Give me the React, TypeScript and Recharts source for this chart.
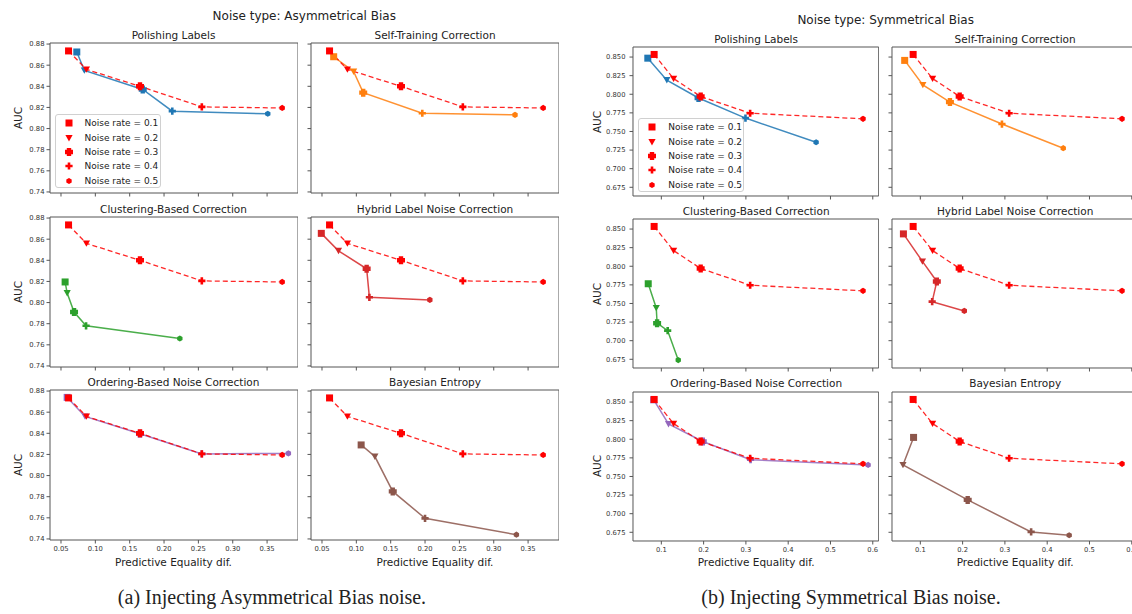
import React from "react";
import { LineChart, Line, XAxis, YAxis, ReferenceArea, Legend } from "recharts";

const noiseRates = [0.1, 0.2, 0.3, 0.4, 0.5];

// (a) asymmetrical bias — red dashed reference (no correction)
const asymBaseX = [0.061, 0.087, 0.165, 0.255, 0.372];
const asymBaseY = [0.8735, 0.856, 0.84, 0.8205, 0.8195];
const asymPolishX = [0.073, 0.084, 0.169, 0.212, 0.351];
const asymPolishY = [0.8725, 0.855, 0.837, 0.8165, 0.814];
const asymSelfX = [0.067, 0.096, 0.11, 0.196, 0.331];
const asymSelfY = [0.868, 0.854, 0.834, 0.8145, 0.813];
const asymClusterX = [0.056, 0.059, 0.069, 0.0865, 0.223];
const asymClusterY = [0.8195, 0.809, 0.791, 0.778, 0.766];
const asymHybridX = [0.049, 0.074, 0.115, 0.119, 0.207];
const asymHybridY = [0.8655, 0.849, 0.832, 0.805, 0.8025];
const asymOrderX = [0.059, 0.085, 0.165, 0.255, 0.381];
const asymOrderY = [0.874, 0.856, 0.8395, 0.8205, 0.821];
const asymBayesX = [0.107, 0.127, 0.153, 0.2, 0.333];
const asymBayesY = [0.829, 0.818, 0.785, 0.7595, 0.744];

// (b) symmetrical bias
const symBaseX = [0.083, 0.129, 0.193, 0.31, 0.577];
const symBaseY = [0.8535, 0.821, 0.797, 0.7745, 0.767];
const symPolishX = [0.068, 0.113, 0.188, 0.299, 0.466];
const symPolishY = [0.8485, 0.819, 0.795, 0.768, 0.7355];
const symSelfX = [0.063, 0.106, 0.17, 0.293, 0.438];
const symSelfY = [0.8455, 0.8125, 0.7895, 0.76, 0.7275];
const symClusterX = [0.069, 0.088, 0.09, 0.115, 0.14];
const symClusterY = [0.7765, 0.744, 0.7235, 0.7135, 0.674];
const symHybridX = [0.06, 0.105, 0.139, 0.128, 0.204];
const symHybridY = [0.8435, 0.8065, 0.7795, 0.7525, 0.74];
const symOrderX = [0.082, 0.117, 0.198, 0.311, 0.589];
const symOrderY = [0.853, 0.8205, 0.797, 0.7725, 0.7655];
const symBayesX = [0.084, 0.059, 0.212, 0.362, 0.452];
const symBayesY = [0.8025, 0.7655, 0.7185, 0.6755, 0.671];

const asymXTicks = [0.05, 0.1, 0.15, 0.2, 0.25, 0.3, 0.35];
const asymYTicks = [0.74, 0.76, 0.78, 0.8, 0.82, 0.84, 0.86, 0.88];
const symXTicks = [0.1, 0.2, 0.3, 0.4, 0.5, 0.6];
const symYTicks = [0.675, 0.7, 0.725, 0.75, 0.775, 0.8, 0.825, 0.85];

const titles = [
  "Polishing Labels",
  "Self-Training Correction",
  "Clustering-Based Correction",
  "Hybrid Label Noise Correction",
  "Ordering-Based Noise Correction",
  "Bayesian Entropy",
];
const colors = ["#1f77b4", "#ff7f0e", "#2ca02c", "#d62728", "#9467bd", "#8c564b"];

const toPoints = (xs: number[], ys: number[]) => xs.map((x, i) => ({ x, y: ys[i] }));

const FONT = "'DejaVu Sans', sans-serif";
const YW = 45;
const XH = 25;
const MT = 6;

const plus = (cx: number, cy: number, b: number, a: number) =>
  [
    [-a, -b], [a, -b], [a, -a], [b, -a], [b, a], [a, a],
    [a, b], [-a, b], [-a, a], [-b, a], [-b, -a], [-a, -a],
  ]
    .map(([dx, dy]) => `${cx + dx},${cy + dy}`)
    .join(" ");

const hexagon = (cx: number, cy: number, r: number) =>
  [0, 1, 2, 3, 4, 5]
    .map((k) => {
      const t = (Math.PI / 3) * k + Math.PI / 6;
      return `${cx + r * Math.cos(t)},${cy + r * Math.sin(t)}`;
    })
    .join(" ");

function marker(i: number, cx: number, cy: number, color: string, key?: any) {
  switch (i) {
    case 0:
      return <rect key={key} x={cx - 3.5} y={cy - 3.5} width={7} height={7} fill={color} />;
    case 1:
      return (
        <polygon
          key={key}
          points={`${cx - 3.6},${cy - 3} ${cx + 3.6},${cy - 3} ${cx},${cy + 3.4}`}
          fill={color}
        />
      );
    case 2:
      return <polygon key={key} points={plus(cx, cy, 4, 2.2)} fill={color} />;
    case 3:
      return <polygon key={key} points={plus(cx, cy, 3.6, 1.3)} fill={color} />;
    default:
      return <polygon key={key} points={hexagon(cx, cy, 3.1)} fill={color} />;
  }
}

const dotFor = (color: string) => (p: any) => marker(p.index, p.cx, p.cy, color, p.index);

const NoiseLegend = () => (
  <div
    style={{
      width: 106,
      height: 74,
      boxSizing: "border-box",
      border: "1px solid #d0d0d0",
      borderRadius: 3,
      background: "rgba(255,255,255,0.85)",
      paddingTop: 1,
    }}
  >
    {noiseRates.map((r, i) => (
      <div key={r} style={{ height: 14.3, display: "flex", alignItems: "center" }}>
        <svg width={26} height={12} style={{ flex: "none" }}>
          {marker(i, 13, 6, "#ff0000")}
        </svg>
        <span style={{ fontFamily: FONT, fontSize: 9, color: "#222", marginLeft: 3 }}>
          Noise rate = {r}
        </span>
      </div>
    ))}
  </div>
);

type Group = {
  xDomain: [number, number];
  yDomain: [number, number];
  xTicks: number[];
  yTicks: number[];
  xFmt: (v: number) => string;
  yFmt: (v: number) => string;
  yTickMargin: number;
  colLeft: number[];
  rowTop: number[];
  w: number;
  h: number;
  base: { x: number; y: number }[];
  series: { x: number; y: number }[][];
};

function Panel({ g, k }: { g: Group; k: number }) {
  const row = Math.floor(k / 2);
  const col = k % 2;
  const showX = row === 2;
  const showY = col === 0;
  const left = g.colLeft[col] - YW;
  const top = g.rowTop[row] - MT;
  return (
    <div style={{ position: "absolute", left, top }}>
      <LineChart
        width={g.w + YW}
        height={g.h + XH + MT}
        margin={{ top: MT, right: 0, bottom: 0, left: 0 }}
      >
        <XAxis
          type="number"
          dataKey="x"
          domain={g.xDomain}
          ticks={g.xTicks}
          interval={0}
          allowDataOverflow
          height={XH}
          axisLine={false}
          tickSize={3.5}
          tickMargin={3}
          tickLine={{ stroke: "#555" }}
          tick={{ fontSize: 6.8, fill: "#333", fontFamily: FONT }}
          tickFormatter={showX ? g.xFmt : () => ""}
        />
        <YAxis
          type="number"
          dataKey="y"
          domain={g.yDomain}
          ticks={g.yTicks}
          interval={0}
          allowDataOverflow
          width={YW}
          axisLine={false}
          tickSize={3.5}
          tickMargin={g.yTickMargin}
          tickLine={{ stroke: "#555" }}
          tick={{ fontSize: 6.8, fill: "#333", fontFamily: FONT }}
          tickFormatter={showY ? g.yFmt : () => ""}
        />
        <ReferenceArea
          x1={g.xDomain[0]}
          x2={g.xDomain[1]}
          y1={g.yDomain[0]}
          y2={g.yDomain[1]}
          fill="none"
          stroke="#555"
          strokeWidth={1}
          ifOverflow="visible"
        />
        <Line
          data={g.series[k]}
          dataKey="y"
          stroke={colors[k]}
          strokeWidth={1.5}
          strokeOpacity={0.85}
          dot={dotFor(colors[k])}
          activeDot={false}
          isAnimationActive={false}
        />
        <Line
          data={g.base}
          dataKey="y"
          stroke="#ff0000"
          strokeWidth={1.3}
          strokeOpacity={0.85}
          strokeDasharray="5 3"
          dot={dotFor("#ff0000")}
          activeDot={false}
          isAnimationActive={false}
        />
        {k === 0 && (
          <Legend
            layout="vertical"
            align="center"
            verticalAlign="middle"
            content={() => <NoiseLegend />}
            wrapperStyle={{ left: 50, top: 71 + MT, width: "auto" }}
          />
        )}
      </LineChart>
    </div>
  );
}

const asym: Group = {
  xDomain: [0.034, 0.395],
  yDomain: [0.739, 0.881],
  xTicks: asymXTicks,
  yTicks: asymYTicks,
  xFmt: (v) => v.toFixed(2),
  yFmt: (v) => v.toFixed(2),
  yTickMargin: 2,
  colLeft: [49.5, 311],
  rowTop: [43.3, 217, 390],
  w: 248,
  h: 150,
  base: toPoints(asymBaseX, asymBaseY),
  series: [
    toPoints(asymPolishX, asymPolishY),
    toPoints(asymSelfX, asymSelfY),
    toPoints(asymClusterX, asymClusterY),
    toPoints(asymHybridX, asymHybridY),
    toPoints(asymOrderX, asymOrderY),
    toPoints(asymBayesX, asymBayesY),
  ],
};

const sym: Group = {
  xDomain: [0.033, 0.614],
  yDomain: [0.6633, 0.8635],
  xTicks: symXTicks,
  yTicks: symYTicks,
  xFmt: (v) => v.toFixed(1),
  yFmt: (v) => v.toFixed(3),
  yTickMargin: 4,
  colLeft: [633.3, 892.3],
  rowTop: [47.3, 219.3, 391.7],
  w: 245.7,
  h: 149,
  base: toPoints(symBaseX, symBaseY),
  series: [
    toPoints(symPolishX, symPolishY),
    toPoints(symSelfX, symSelfY),
    toPoints(symClusterX, symClusterY),
    toPoints(symHybridX, symHybridY),
    toPoints(symOrderX, symOrderY),
    toPoints(symBayesX, symBayesY),
  ],
};

const Text = ({ x, y, size, children, rotate, family }: any) => (
  <div
    style={{
      position: "absolute",
      left: x,
      top: y,
      transform: `translate(-50%, -50%)${rotate ? ` rotate(${rotate}deg)` : ""}`,
      whiteSpace: "nowrap",
      fontFamily: family || FONT,
      fontSize: size,
      color: "#222",
      lineHeight: 1,
    }}
  >
    {children}
  </div>
);

function GroupLabels({ g, title, titleY, subY, aucX, xLabelY }: any) {
  return (
    <>
      <Text x={(g.colLeft[0] + g.colLeft[1] + g.w) / 2} y={titleY} size={12}>
        {title}
      </Text>
      {titles.map((t, k) => {
        const row = Math.floor(k / 2);
        const col = k % 2;
        return (
          <Text key={t} x={g.colLeft[col] + g.w / 2} y={subY[row]} size={10.5}>
            {t}
          </Text>
        );
      })}
      {[0, 1, 2].map((r) => (
        <Text key={r} x={aucX} y={g.rowTop[r] + g.h / 2} size={10.5} rotate={-90}>
          AUC
        </Text>
      ))}
      {[0, 1].map((c) => (
        <Text key={c} x={g.colLeft[c] + g.w / 2} y={xLabelY} size={10.5}>
          Predictive Equality dif.
        </Text>
      ))}
    </>
  );
}

export default function App() {
  return (
    <div
      style={{
        position: "absolute",
        left: 0,
        top: 0,
        width: 1132,
        height: 614,
        overflow: "hidden",
        background: "#fff",
      }}
    >
      {[0, 1, 2, 3, 4, 5].map((k) => (
        <Panel key={"a" + k} g={asym} k={k} />
      ))}
      {[0, 1, 2, 3, 4, 5].map((k) => (
        <Panel key={"b" + k} g={sym} k={k} />
      ))}
      <GroupLabels
        g={asym}
        title="Noise type: Asymmetrical Bias"
        titleY={16}
        subY={[35, 209.3, 381.7]}
        aucX={18}
        xLabelY={561.5}
      />
      <GroupLabels
        g={sym}
        title="Noise type: Symmetrical Bias"
        titleY={20}
        subY={[39, 211, 383.3]}
        aucX={596.7}
        xLabelY={561.7}
      />
      <Text x={272} y={597} size={20} family="'Liberation Serif', serif">
        (a) Injecting Asymmetrical Bias noise.
      </Text>
      <Text x={851} y={597} size={20} family="'Liberation Serif', serif">
        (b) Injecting Symmetrical Bias noise.
      </Text>
    </div>
  );
}
